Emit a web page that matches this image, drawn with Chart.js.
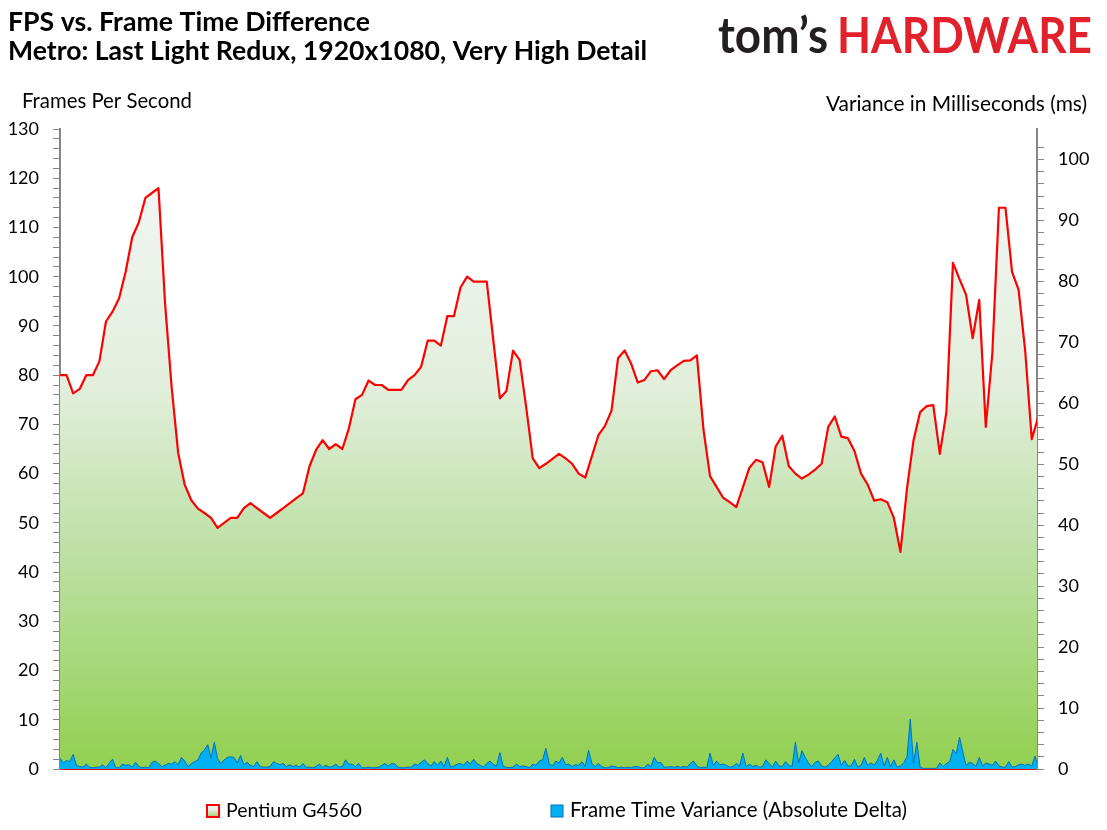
<!DOCTYPE html>
<html>
<head>
<meta charset="utf-8">
<script src="https://cdn.jsdelivr.net/npm/chart.js@4.4.1/dist/chart.umd.min.js"></script>
<style>
  html, body { margin: 0; padding: 0; background: #fff; }
  #wrap { width: 1107px; height: 830px; }
</style>
</head>
<body>
<div id="wrap"><canvas id="fpsChart" width="1107" height="830"></canvas></div>
<script>
// Chart data
const titleLines = ["FPS vs. Frame Time Difference", "Metro: Last Light Redux, 1920x1080, Very High Detail"];
const leftAxisTitle = "Frames Per Second";
const rightAxisTitle = "Variance in Milliseconds (ms)";
const seriesNames = ["Pentium G4560", "Frame Time Variance (Absolute Delta)"];

const leftTickLabels = [0, 10, 20, 30, 40, 50, 60, 70, 80, 90, 100, 110, 120, 130];
const rightTickLabels = [0, 10, 20, 30, 40, 50, 60, 70, 80, 90, 100];

// FPS, one value per sample
const fpsValues = [
  80, 80, 76.3, 77.2, 80, 80, 82.8, 90.9, 92.9, 95.6,
  101, 108, 111, 116, 117, 118, 94.6, 77.6, 64.2, 57.7,
  54.6, 52.9, 52, 51, 49, 50, 51, 51, 53, 54,
  53, 52, 51, 52, 53, 54, 55, 56, 61.5, 64.8,
  66.8, 65, 66, 65, 69.2, 75.1, 76, 78.9, 78, 78,
  77, 77, 77, 79, 80, 81.7, 87, 87, 86, 92,
  92, 97.8, 100, 99, 99, 99, 87, 75.3, 76.8, 85,
  83.1, 73.5, 63.1, 61.1, 62, 63, 64, 63.1, 62, 60,
  59.2, 63.5, 67.8, 69.7, 72.8, 83.5, 85, 82.3, 78.5, 79,
  80.8, 81, 79.2, 81, 82, 82.9, 83, 84, 69, 59.5,
  57.3, 55.1, 54.2, 53.2, 57.2, 61.2, 62.8, 62.3, 57.3, 65.5,
  67.7, 61.5, 60, 59, 59.8, 60.8, 62, 69.5, 71.6, 67.5,
  67.2, 64.6, 60, 57.8, 54.5, 54.8, 54.2, 51, 44.1, 57,
  66.8, 72.5, 73.7, 73.9, 64, 72.5, 102.8, 99.5, 96.3, 87.5,
  95.3, 69.5, 84.5, 114, 114, 101, 97.3, 85, 67, 71.5
];

// frame time variance (ms), two values per FPS sample
const varianceValues = [
  1.75, 1.0, 1.4, 1.2, 2.4, 0.6, 0.4, 0.3, 0.8, 0.3,
  0.2, 0.3, 0.3, 0.7, 0.2, 0.9, 1.6, 0.2, 0.2, 0.8,
  0.6, 0.7, 0.3, 1.1, 0.4, 0.2, 0.3, 0.2, 1.1, 1.3,
  0.9, 0.4, 0.6, 0.9, 0.8, 1.2, 0.7, 1.9, 1.3, 0.4,
  0.9, 1.2, 1.5, 2.6, 3.1, 4.0, 1.8, 4.4, 1.7, 0.9,
  1.5, 1.9, 2.0, 1.9, 1.0, 2.2, 0.7, 1.1, 0.6, 0.4,
  1.2, 0.4, 0.3, 0.3, 0.4, 1.2, 0.9, 0.7, 0.9, 0.4,
  0.7, 0.4, 0.6, 0.3, 0.9, 0.3, 0.3, 0.2, 0.4, 0.8,
  0.3, 0.6, 0.3, 0.4, 0.8, 0.3, 0.4, 1.5, 0.8, 0.8,
  0.4, 0.9, 0.2, 0.2, 0.3, 0.2, 0.2, 0.3, 0.6, 0.9,
  0.5, 0.9, 0.8, 0.3, 0.2, 0.2, 0.3, 0.3, 0.8, 0.6,
  1.1, 1.5, 0.9, 0.5, 1.2, 0.6, 1.3, 0.4, 1.9, 0.3,
  0.5, 0.8, 0.9, 0.6, 1.3, 0.8, 1.6, 0.9, 0.6, 0.3,
  0.9, 1.3, 0.7, 0.5, 2.7, 0.4, 0.3, 0.2, 0.3, 0.8,
  0.4, 0.5, 0.4, 0.2, 0.8, 0.6, 1.3, 1.5, 3.4, 0.9,
  0.5, 1.3, 1.0, 1.9, 0.7, 0.8, 0.4, 0.7, 0.6, 1.2,
  0.4, 3.1, 0.9, 0.4, 0.9, 0.4, 0.2, 0.2, 0.5, 0.4,
  0.2, 0.3, 0.2, 0.3, 0.2, 0.4, 0.4, 0.2, 0.2, 0.8,
  0.4, 1.9, 1.0, 1.1, 0.3, 0.3, 0.4, 0.3, 0.4, 0.3,
  0.4, 0.3, 0.9, 1.3, 0.5, 0.2, 0.3, 0.2, 2.6, 0.6,
  1.3, 0.7, 0.8, 0.6, 0.3, 0.4, 0.9, 0.5, 2.6, 0.4,
  0.8, 0.4, 0.6, 0.3, 0.4, 1.5, 0.9, 0.3, 1.3, 0.5,
  0.4, 1.2, 0.6, 0.4, 4.4, 1.0, 3.0, 1.9, 1.0, 0.4,
  1.1, 1.3, 0.5, 0.3, 0.6, 1.2, 1.8, 2.4, 0.6, 1.4,
  0.5, 0.5, 1.6, 0.3, 0.6, 1.9, 0.6, 1.0, 0.6, 1.4,
  2.6, 0.5, 1.9, 0.4, 1.5, 0.3, 0.5, 1.0, 2.0, 8.2,
  0.9, 4.4, 0.3, 0.1, 0.1, 0.1, 0.1, 0.1, 1.0, 0.4,
  0.9, 1.2, 3.2, 2.5, 5.2, 2.8, 0.6, 1.1, 0.9, 0.4,
  1.9, 0.5, 1.0, 0.8, 0.6, 1.3, 0.5, 0.3, 0.3, 1.2,
  0.3, 0.4, 0.7, 0.8, 0.6, 0.8, 0.5, 2.1, 0.4
];

const FONT = "Lato, 'Open Sans', sans-serif";
const AXIS_GRAY = "#868686";

// green fade used by the FPS area and its legend box
function fpsGradient(ctx, top, bottom) {
  const g = ctx.createLinearGradient(0, top, 0, bottom);
  g.addColorStop(0, "#f5f7fa");
  g.addColorStop(0.4, "#e2efdc");
  g.addColorStop(0.66, "#bde0a5");
  g.addColorStop(1, "#92d050");
  return g;
}

// draw text scaled to a target width
function fitText(ctx, text, x, y, width, weight, size) {
  ctx.font = weight + " " + size + "px " + FONT;
  const w = ctx.measureText(text).width;
  const s = width / w;
  ctx.font = weight + " " + (size * s).toFixed(2) + "px " + FONT;
  ctx.fillText(text, x, y);
}

const textPlugin = {
  id: "chartText",
  afterDraw(chart) {
    const ctx = chart.ctx;
    ctx.save();
    ctx.textBaseline = "alphabetic";
    ctx.textAlign = "left";
    ctx.fillStyle = "#000";
    fitText(ctx, titleLines[0], 8, 31, 362, "bold", 24);
    fitText(ctx, titleLines[1], 8, 60, 639, "bold", 24);
    fitText(ctx, leftAxisTitle, 22, 108, 170, "normal", 19);
    fitText(ctx, rightAxisTitle, 826, 111, 261, "normal", 19);

    // logo
    ctx.font = "bold 50px " + FONT;
    let w = ctx.measureText("tom\u2019s").width;
    ctx.save();
    ctx.translate(718, 53);
    ctx.scale(110 / w, 1);
    ctx.fillStyle = "#231f20";
    ctx.fillText("tom\u2019s", 0, 0);
    ctx.restore();
    w = ctx.measureText("HARDWARE").width;
    ctx.save();
    ctx.translate(837, 53);
    ctx.scale(255 / w, 1);
    ctx.fillStyle = "#e1212b";
    ctx.fillText("HARDWARE", 0, 0);
    ctx.restore();

    // legend
    const boxX = [207, 551];
    const textW = [136, 337];
    chart.data.datasets.forEach((ds, i) => {
      const bx = boxX[ds.legendSlot];
      if (ds.legendSlot === 0) {
        ctx.fillStyle = fpsGradient(ctx, 805, 818);
        ctx.fillRect(bx, 805, 12, 12);
        ctx.strokeStyle = "#ff0000";
        ctx.lineWidth = 2;
      } else {
        ctx.fillStyle = "#00b0f0";
        ctx.fillRect(bx, 805, 12, 12);
        ctx.strokeStyle = "#0070c0";
        ctx.lineWidth = 1;
      }
      ctx.strokeRect(bx, 805, 12, 12);
      ctx.fillStyle = "#000";
      fitText(ctx, ds.label, bx + 19, 817, textW[ds.legendSlot], "normal", 19);
    });
    ctx.restore();
  }
};

const fpsPoints = fpsValues.map((v, i) => ({ x: i, y: v }));
const variancePoints = varianceValues.map((v, j) => ({ x: j / 2, y: v }));

const chartData = {
  datasets: [
    {
      label: seriesNames[1],
      legendSlot: 1,
      data: variancePoints,
      yAxisID: "y1",
      order: 0,
      borderColor: "#0070c0",
      borderWidth: 1,
      backgroundColor: "#00b0f0",
      fill: "origin",
      pointRadius: 0,
      tension: 0,
      clip: { left: 0, right: 0, top: false, bottom: 0 }
    },
    {
      label: seriesNames[0],
      legendSlot: 0,
      data: fpsPoints,
      yAxisID: "y",
      order: 1,
      borderColor: "#ff0000",
      borderWidth: 2.2,
      borderJoinStyle: "round",
      backgroundColor: (c) => {
        const a = c.chart.chartArea;
        if (!a) return "#c0e0a0";
        return fpsGradient(c.chart.ctx, a.top, a.bottom);
      },
      fill: "origin",
      pointRadius: 0,
      tension: 0,
      clip: { left: 0, right: 0, top: false, bottom: 0 }
    }
  ]
};

const tickFont = { family: FONT, size: 18 };

const config = {
  type: "line",
  data: chartData,
  options: {
    responsive: false,
    animation: false,
    events: [],
    layout: { padding: { top: 129, bottom: 61, left: 0, right: 0 } },
    plugins: { legend: { display: false }, tooltip: { enabled: false } },
    scales: {
      x: {
        type: "linear",
        min: 0,
        max: 148.8,
        z: 1,
        ticks: { display: false },
        grid: { display: false },
        border: { color: "#ff0000", width: 2 },
        afterFit: (s) => { s.height = 0; }
      },
      y: {
        position: "left",
        min: 0,
        max: 130,
        ticks: {
          stepSize: 2,
          autoSkip: false,
          padding: 14,
          color: "#000",
          font: tickFont,
          callback: (v) => leftTickLabels.includes(v) ? String(v) : ""
        },
        grid: { drawOnChartArea: false, drawTicks: true, tickLength: 7, color: AXIS_GRAY, lineWidth: 1 },
        border: { color: AXIS_GRAY, width: 2 },
        afterFit: (s) => { s.width = 60; }
      },
      y1: {
        position: "right",
        min: 0,
        max: 105,
        afterBuildTicks: (s) => { s.ticks = s.ticks.filter(t => t.value % 2 === 0); },
        ticks: {
          stepSize: 2,
          autoSkip: false,
          padding: 14,
          color: "#000",
          font: tickFont,
          callback: (v) => rightTickLabels.includes(v) ? String(v) : ""
        },
        grid: { drawOnChartArea: false, drawTicks: true, tickLength: 7, color: AXIS_GRAY, lineWidth: 1 },
        border: { color: AXIS_GRAY, width: 2 },
        afterFit: (s) => { s.width = 70; }
      }
    }
  },
  plugins: [textPlugin]
};

new Chart(document.getElementById("fpsChart"), config);
</script>
</body>
</html>
